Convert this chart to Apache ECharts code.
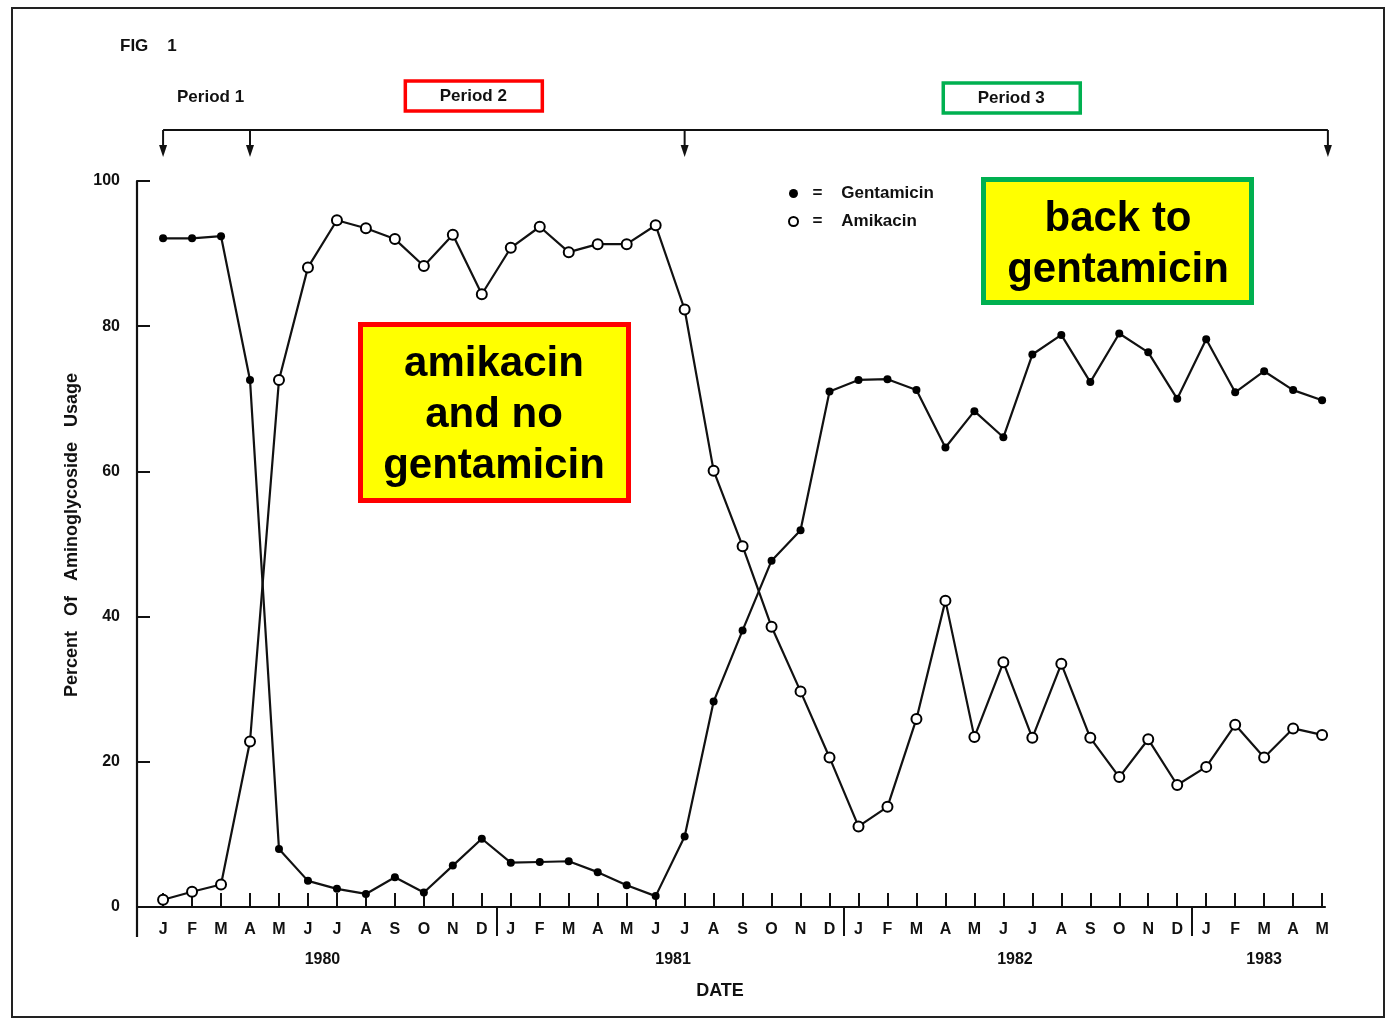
<!DOCTYPE html>
<html><head><meta charset="utf-8">
<script src="https://cdn.jsdelivr.net/npm/echarts@6/dist/echarts.min.js"></script>
<style>html,body{margin:0;padding:0;background:#fff}#c{width:1387px;height:1020px}</style>
</head><body><div id="c"></div>
<script>
// ---- data ----
const months = ['J','F','M','A','M','J','J','A','S','O','N','D',
                'J','F','M','A','M','J','J','A','S','O','N','D',
                'J','F','M','A','M','J','J','A','S','O','N','D',
                'J','F','M','A','M'];
const years = ['1980','1981','1982','1983'];
const yearCenters = [5.5, 17.6, 29.4, 38];
const yearBreaks = [11.5, 23.5, 35.5];
const gentamicin = [92.1,92.1,92.4,72.6,8.0,3.6,2.5,1.8,4.1,2.0,5.7,9.4,
                    6.1,6.2,6.3,4.8,3.0,1.5,9.7,28.3,38.1,47.7,51.9,71.0,
                    72.6,72.7,71.2,63.3,68.3,64.7,76.1,78.8,72.3,79.0,76.4,70.0,
                    78.2,70.9,73.8,71.2,69.8];
const amikacin   = [1.0,2.1,3.1,22.8,72.6,88.1,94.6,93.5,92.0,88.3,92.6,84.4,
                    90.8,93.7,90.2,91.3,91.3,93.9,82.3,60.1,49.7,38.6,29.7,20.6,
                    11.1,13.8,25.9,42.2,23.4,33.7,23.3,33.5,23.3,17.9,23.1,16.8,
                    19.3,25.1,20.6,24.6,23.7];
const yTicks = [0,20,40,60,80,100];
const periodBounds = [0, 3, 18, 40.2];
const periodNames = ['Period 1','Period 2','Period 3'];
const notes = ['amikacin\nand no\ngentamicin', 'back to\ngentamicin'];
const yTitle = 'Percent   Of   Aminoglycoside   Usage';

// ---- chart ----
const FONT = '"Liberation Sans", Arial, Helvetica, sans-serif';
const INK = '#111';
const chart = echarts.init(document.getElementById('c'), null, {renderer:'canvas'});
const monthIdx = months.map((m,i)=>i);
const option = {
  backgroundColor:'#fff',
  animation:false,
  grid:{left:137, right:62, top:181, bottom:113, outerBoundsMode:'none', containLabel:false},
  xAxis:[{
    type:'value', min:-0.9, max:40.1,
    splitLine:{show:false},
    axisLine:{show:true, onZero:false, lineStyle:{color:INK, width:2.2}},
    axisTick:{show:true, inside:true, length:14, customValues:monthIdx, lineStyle:{color:INK, width:2}},
    axisLabel:{show:true, customValues:monthIdx, margin:15, color:INK, fontFamily:FONT, fontWeight:'bold', fontSize:16,
      formatter:(v)=>months[Math.round(v)] || ''}
  },{
    type:'value', min:-0.9, max:40.1, position:'bottom',
    splitLine:{show:false},
    axisLine:{show:false, onZero:false},
    axisTick:{show:true, inside:false, length:29, customValues:yearBreaks, lineStyle:{color:INK, width:2}},
    axisLabel:{show:true, customValues:yearCenters, margin:45, color:INK, fontFamily:FONT, fontWeight:'bold', fontSize:16,
      formatter:(v)=>{const k=yearCenters.indexOf(v); return k>=0?years[k]:'';}}
  }],
  yAxis:{
    type:'value', min:0, max:100,
    splitLine:{show:false},
    axisLine:{show:true, onZero:false, lineStyle:{color:INK, width:2.2}},
    axisTick:{show:true, inside:true, length:13, customValues:yTicks, lineStyle:{color:INK, width:2}},
    axisLabel:{show:true, customValues:yTicks, margin:17, color:INK, fontFamily:FONT, fontWeight:'bold', fontSize:16}
  },
  legend:{
    orient:'vertical', left:783, top:180, itemGap:11, itemWidth:9, itemHeight:9,
    textStyle:{color:INK, fontFamily:FONT, fontWeight:'bold', fontSize:17},
    formatter:(n)=>'  =    '+n,
    data:[
      {name:'Gentamicin', icon:'circle', itemStyle:{color:'#000', borderWidth:0}},
      {name:'Amikacin', icon:'circle', itemStyle:{color:'#fff', borderColor:'#000', borderWidth:2}}
    ]
  },
  series:[{
    name:'Gentamicin', type:'line', xAxisIndex:0,
    data:gentamicin.map((v,i)=>[i,v]),
    symbol:'circle', symbolSize:8,
    lineStyle:{color:INK, width:2.2},
    itemStyle:{color:'#000'},
    z:3
  },{
    name:'Amikacin', type:'line', xAxisIndex:0,
    data:amikacin.map((v,i)=>[i,v]),
    symbol:'circle', symbolSize:10,
    lineStyle:{color:INK, width:2.2},
    itemStyle:{color:'#fff', borderColor:'#000', borderWidth:2},
    z:4
  }]
};
chart.setOption(option);

const xs = periodBounds.map(v=>chart.convertToPixel({xAxisIndex:0}, v));
const y0 = chart.convertToPixel({yAxisIndex:0}, 0);
const g = [];
g.push({type:'rect', shape:{x:12,y:8,width:1372,height:1009}, style:{fill:'none', stroke:'#222', lineWidth:2}, z:1});
// y axis line continues below the x axis
g.push({type:'line', shape:{x1:137, y1:y0, x2:137, y2:y0+30}, style:{stroke:INK, lineWidth:2.2}});
g.push({type:'text', x:120, y:46, style:{text:'FIG    1', fill:INK, font:'bold 17px '+FONT, textVerticalAlign:'middle'}});
// period bracket
g.push({type:'line', shape:{x1:xs[0], y1:130, x2:xs[3], y2:130}, style:{stroke:INK, lineWidth:2}});
xs.forEach(x=>{
  g.push({type:'line', shape:{x1:x, y1:130, x2:x, y2:148}, style:{stroke:INK, lineWidth:2}});
  g.push({type:'polygon', shape:{points:[[x-4,145],[x+4,145],[x,157]]}, style:{fill:INK}});
});
const boxColors = [null, '#ff0000', '#00b050'];
const labelY = [97, 96, 98];
const labelShift = [4, 6, 5];
periodNames.forEach((p,k)=>{
  const cx = (xs[k]+xs[k+1])/2 + labelShift[k];
  if (boxColors[k]) {
    g.push({type:'rect', shape:{x:cx-68, y:labelY[k]-15, width:137, height:30},
      style:{fill:'none', stroke:boxColors[k], lineWidth:3.5}});
  }
  g.push({type:'text', x:cx, y:labelY[k], style:{text:p, fill:INK, font:'bold 17px '+FONT, textAlign:'center', textVerticalAlign:'middle'}});
});
// y axis title
g.push({type:'text', x:72, y:535, rotation:Math.PI/2,
  style:{text:yTitle, fill:INK, font:'bold 18px '+FONT, textAlign:'center', textVerticalAlign:'middle'}});
// x axis title
g.push({type:'text', x:720, y:991, style:{text:'DATE', fill:INK, font:'bold 18px '+FONT, textAlign:'center', textVerticalAlign:'middle'}});
// annotation boxes
g.push({type:'rect', shape:{x:360.5, y:324.5, width:268, height:176}, style:{fill:'#ffff00', stroke:'#ff0000', lineWidth:5}, z:10});
g.push({type:'text', x:494, y:415, z:11, style:{text:notes[0], fill:'#000', font:'bold 42px '+FONT, lineHeight:51, textAlign:'center', textVerticalAlign:'middle'}});
g.push({type:'rect', shape:{x:983.5, y:179.5, width:268, height:123}, style:{fill:'#ffff00', stroke:'#00b050', lineWidth:5}, z:10});
g.push({type:'text', x:1118, y:245, z:11, style:{text:notes[1], fill:'#000', font:'bold 42px '+FONT, lineHeight:51, textAlign:'center', textVerticalAlign:'middle'}});
chart.setOption({graphic:{elements:g}});
</script>
</body></html>
